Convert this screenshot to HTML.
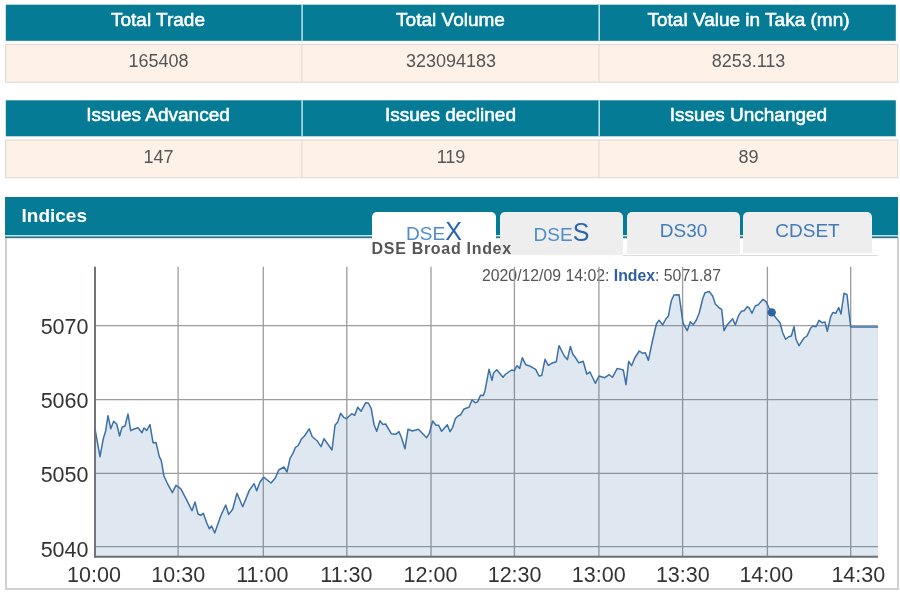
<!DOCTYPE html>
<html lang="en">
<head>
<meta charset="utf-8">
<title>DSE Market Summary</title>
<style>
html,body{margin:0;padding:0;}
body{width:900px;height:600px;position:relative;overflow:hidden;background:#fff;font-family:"Liberation Sans",Arial,sans-serif;}
.h{position:absolute;height:36px;color:#fff;font-size:19px;text-align:center;line-height:29px;-webkit-text-stroke:0.55px #fff;}
.d{position:absolute;height:37px;color:#555;font-size:18px;text-align:center;line-height:32px;border:1px solid transparent;box-sizing:content-box;}
.c1{padding-left:9px;}
.ih{position:absolute;left:5px;top:197px;width:893px;height:38px;background:#057b95;}
.hl{position:absolute;left:0;top:0;}
.ih span{position:absolute;left:16.5px;top:7px;color:#fff;font-weight:bold;font-size:19px;line-height:24px;}
.panel{position:absolute;left:5px;top:238px;width:894px;height:352px;border:2px solid #d0d0d0;border-top:none;box-sizing:border-box;}
.tab{position:absolute;top:212px;border-radius:5px 5px 0 0;background:#eee;text-align:center;color:#3f7bbd;font-size:19px;}
.tab.act{background:#fff;}
.tabline{position:absolute;left:623px;top:254.5px;width:255px;height:1px;background:#ddd;}
.tab span{position:absolute;left:0;right:0;white-space:nowrap;}
.sm{font-size:19px;color:#4f8ccb;}
.lg{font-size:25px;color:#2a66b0;}
.ttl{position:absolute;left:371.5px;top:239px;font-size:16px;font-weight:bold;color:#555;line-height:20px;letter-spacing:0.7px;white-space:nowrap;}
.chart{position:absolute;left:0;top:0;}
.ax{font-family:"Liberation Sans",Arial,sans-serif;font-size:21.5px;fill:#333;}
.tip{font-family:"Liberation Sans",Arial,sans-serif;font-size:15.8px;fill:#555;}
.tipb{font-weight:bold;fill:#2f5f9f;}
</style>
</head>
<body>
<svg class="hl" width="900" height="260" viewBox="0 0 900 260">
<rect x="5.8" y="4.7" width="890" height="36.1" fill="#057b95"/>
<line x1="302.1" y1="4.7" x2="302.1" y2="40.8" stroke="#c9eff6" stroke-width="1.4"/>
<line x1="599.2" y1="4.7" x2="599.2" y2="40.8" stroke="#c9eff6" stroke-width="1.4"/>
<rect x="5.6" y="44.5" width="892.1" height="37.7" fill="#fef1e8" stroke="#e0dad2" stroke-width="1.1"/>
<line x1="301.9" y1="44.5" x2="301.9" y2="82.2" stroke="#e0dad2" stroke-width="1.1"/>
<line x1="599.0" y1="44.5" x2="599.0" y2="82.2" stroke="#e0dad2" stroke-width="1.1"/>
<rect x="5.8" y="100.3" width="890" height="36.0" fill="#057b95"/>
<line x1="302.1" y1="100.3" x2="302.1" y2="136.3" stroke="#c9eff6" stroke-width="1.4"/>
<line x1="599.2" y1="100.3" x2="599.2" y2="136.3" stroke="#c9eff6" stroke-width="1.4"/>
<rect x="5.6" y="140.0" width="892.1" height="37.7" fill="#fef1e8" stroke="#e0dad2" stroke-width="1.1"/>
<line x1="301.9" y1="140.0" x2="301.9" y2="177.7" stroke="#e0dad2" stroke-width="1.1"/>
<line x1="599.0" y1="140.0" x2="599.0" y2="177.7" stroke="#e0dad2" stroke-width="1.1"/>
<rect x="5" y="235" width="893" height="1.4" fill="#b4e6f2"/><rect x="5" y="236.4" width="893" height="1.8" fill="#2f7585"/>
</svg>
<div class="h c1" style="left:6px;top:5px;width:286px;">Total Trade</div>
<div class="h" style="left:303px;top:5px;width:295px;">Total Volume</div>
<div class="h" style="left:601px;top:5px;width:295px;">Total Value in Taka (mn)</div>
<div class="d c1" style="left:5px;top:44px;width:287px;">165408</div>
<div class="d" style="left:302px;top:44px;width:296px;">323094183</div>
<div class="d" style="left:599px;top:44px;width:297px;">8253.113</div>

<div class="h c1" style="left:6px;top:100px;width:286px;">Issues Advanced</div>
<div class="h" style="left:303px;top:100px;width:295px;">Issues declined</div>
<div class="h" style="left:601px;top:100px;width:295px;">Issues Unchanged</div>
<div class="d c1" style="left:5px;top:140px;width:287px;">147</div>
<div class="d" style="left:302px;top:140px;width:296px;">119</div>
<div class="d" style="left:599px;top:140px;width:297px;">89</div>

<div class="ih"><span>Indices</span></div>
<div class="panel"></div>
<div class="tabline"></div>
<div class="tab act" style="left:372px;width:124px;height:44px;"><span style="top:4px;line-height:30px;"><span style="position:static" class="sm">DSE</span><span style="position:static" class="lg">X</span></span></div>
<div class="tab" style="left:500px;width:123px;height:43px;"><span style="top:5px;line-height:30px;"><span style="position:static" class="sm">DSE</span><span style="position:static" class="lg">S</span></span></div>
<div class="tab" style="left:627px;width:113px;height:41.5px;"><span style="top:8px;line-height:22px;">DS30</span></div>
<div class="tab" style="left:743px;width:129px;height:41px;"><span style="top:8px;line-height:22px;">CDSET</span></div>
<div class="ttl">DSE Broad Index</div>
<svg class="chart" width="900" height="600" viewBox="0 0 900 600">
<text x="482" y="281" class="tip">2020/12/09 14:02: <tspan class="tipb">Index</tspan>: 5071.87</text>
<line x1="178.1" y1="266.7" x2="178.1" y2="556.7" stroke="#9c9c9c" stroke-width="1.3"/>
<line x1="263.3" y1="266.7" x2="263.3" y2="556.7" stroke="#9c9c9c" stroke-width="1.3"/>
<line x1="346.8" y1="266.7" x2="346.8" y2="556.7" stroke="#9c9c9c" stroke-width="1.3"/>
<line x1="431" y1="266.7" x2="431" y2="556.7" stroke="#9c9c9c" stroke-width="1.3"/>
<line x1="514.4" y1="266.7" x2="514.4" y2="556.7" stroke="#9c9c9c" stroke-width="1.3"/>
<line x1="598.9" y1="266.7" x2="598.9" y2="556.7" stroke="#9c9c9c" stroke-width="1.3"/>
<line x1="682.6" y1="266.7" x2="682.6" y2="556.7" stroke="#9c9c9c" stroke-width="1.3"/>
<line x1="767.4" y1="266.7" x2="767.4" y2="556.7" stroke="#9c9c9c" stroke-width="1.3"/>
<line x1="850.7" y1="266.7" x2="850.7" y2="556.7" stroke="#9c9c9c" stroke-width="1.3"/>
<line x1="95" y1="325.7" x2="878" y2="325.7" stroke="#9c9c9c" stroke-width="1.3"/>
<line x1="95" y1="399.6" x2="878" y2="399.6" stroke="#9c9c9c" stroke-width="1.3"/>
<line x1="95" y1="473.3" x2="878" y2="473.3" stroke="#9c9c9c" stroke-width="1.3"/>
<line x1="95" y1="546.7" x2="878" y2="546.7" stroke="#9c9c9c" stroke-width="1.3"/>
<path d="M95.1,429.3 L100,456.7 L103.3,438.7 L105.7,430.7 L108,415.7 L110.7,428.7 L113.7,421.3 L116.7,424 L119.6,436 L122,427.3 L125,426 L128,414 L130.7,430.7 L134,429 L138,427.7 L142,432.7 L144,428 L146.7,430.4 L150,424.7 L153,442.7 L156,442.4 L159.3,456.7 L161.3,460.7 L164,476.3 L168,484.7 L172.4,492.7 L176,485.3 L180.7,488.7 L186,498.7 L192,510.7 L195,502 L198,514 L200.7,515.3 L203.3,513.3 L206.7,522.7 L209.3,528.7 L211.6,526 L214.7,533 L220.7,516 L225.7,505 L228.7,514.4 L232.7,509.3 L237,493.3 L242.7,506.7 L249.3,490.4 L254,483.6 L256.7,490.7 L260,482 L263.6,477.2 L271,483 L275.3,478 L278.7,470 L284,467 L287,472 L290,458.3 L292.8,453.6 L295.5,447.3 L298.2,445.5 L301.2,439.3 L304.5,436 L309.2,428.8 L312.3,436.7 L317,440.7 L321,446.7 L324,438.7 L332,450 L335,425.3 L337.7,422 L340.6,413.3 L343.7,417.3 L346.3,418.7 L351.7,413.7 L354.7,415.3 L357.7,407.3 L361,411.3 L365.7,402.7 L368.3,403 L371.2,408.4 L374,424.5 L376.7,431.3 L380,420.7 L382.7,424.4 L385.6,424 L391.3,433.7 L395.7,434.3 L399,431.6 L401.6,438 L405,448.7 L408,429.3 L412.3,431 L418.4,429.3 L426.7,437.7 L429.3,433.3 L432.7,421 L436,425.3 L438.7,425.3 L441.6,431.3 L447.3,424.7 L450,431.6 L452.7,427.3 L455.3,418.7 L458,416 L460.7,414.7 L463.7,409.3 L466.7,408 L469,407.3 L472,400 L475.5,402.8 L477.7,401.6 L480.5,395.3 L483.4,395.6 L485,390.7 L489,369.3 L492,380.4 L493.7,372.7 L496.7,369.7 L503,377.3 L505.7,374 L511.7,370 L514.3,370.7 L517,365.7 L519.7,368.4 L522.3,357.7 L525.7,364.7 L529,365.7 L535.7,369.3 L539,376 L541.7,375.6 L545,359.3 L548.3,365.3 L551.7,363.3 L556.3,361.7 L559,345.7 L564.3,356 L567.4,359.6 L570.4,346.4 L572.7,354 L575.7,358 L578.8,362.8 L583.2,361.3 L586.7,374 L590,372 L595.3,383.3 L599,376 L604.7,377.7 L609.3,374.7 L612.4,377.3 L617.3,368.4 L623.3,370 L626,384.7 L628.7,361.3 L631.6,365.7 L634.7,358 L639.3,351 L642.7,353.3 L645.3,352.7 L648.4,360.4 L652.3,341.5 L656.4,324 L659,320.2 L662.7,324.9 L665.8,319 L668.5,315.7 L671.3,300.7 L674,295 L679,294.7 L683.1,323.3 L687.2,330.7 L690.3,321.7 L693.3,324.7 L696.4,320 L699.3,312.7 L702.7,298.7 L705,292.7 L709.3,291.6 L712.7,296 L715.3,304 L719.3,308 L721.7,309.3 L724,330.7 L727.3,324.7 L732.7,318.7 L735.3,325 L738.7,315.3 L741.3,311.3 L744,310.7 L747.3,306.7 L749.3,308 L752,313.3 L755.3,305.7 L758,305 L763,299.3 L766,301.6 L768.7,307.3 L771.7,312.4 L776,318 L780,322.7 L782.7,332.7 L785.6,339.3 L788.7,336.7 L791.3,336 L794,326.7 L796,339.3 L799,345.7 L804,338 L807,336 L810.7,328 L813,326 L816,326.7 L819,320.4 L822,322.7 L825,322 L827.3,331.3 L830.7,316.7 L833,312.4 L835.7,313.3 L838.7,307.6 L841,314 L844,293.3 L847,294.7 L848.7,310 L850.7,327 L878,327 L878,556.7 L95.1,556.7 Z" fill="rgba(58,110,165,0.16)" stroke="none"/>
<path d="M95.1,429.3 L100,456.7 L103.3,438.7 L105.7,430.7 L108,415.7 L110.7,428.7 L113.7,421.3 L116.7,424 L119.6,436 L122,427.3 L125,426 L128,414 L130.7,430.7 L134,429 L138,427.7 L142,432.7 L144,428 L146.7,430.4 L150,424.7 L153,442.7 L156,442.4 L159.3,456.7 L161.3,460.7 L164,476.3 L168,484.7 L172.4,492.7 L176,485.3 L180.7,488.7 L186,498.7 L192,510.7 L195,502 L198,514 L200.7,515.3 L203.3,513.3 L206.7,522.7 L209.3,528.7 L211.6,526 L214.7,533 L220.7,516 L225.7,505 L228.7,514.4 L232.7,509.3 L237,493.3 L242.7,506.7 L249.3,490.4 L254,483.6 L256.7,490.7 L260,482 L263.6,477.2 L271,483 L275.3,478 L278.7,470 L284,467 L287,472 L290,458.3 L292.8,453.6 L295.5,447.3 L298.2,445.5 L301.2,439.3 L304.5,436 L309.2,428.8 L312.3,436.7 L317,440.7 L321,446.7 L324,438.7 L332,450 L335,425.3 L337.7,422 L340.6,413.3 L343.7,417.3 L346.3,418.7 L351.7,413.7 L354.7,415.3 L357.7,407.3 L361,411.3 L365.7,402.7 L368.3,403 L371.2,408.4 L374,424.5 L376.7,431.3 L380,420.7 L382.7,424.4 L385.6,424 L391.3,433.7 L395.7,434.3 L399,431.6 L401.6,438 L405,448.7 L408,429.3 L412.3,431 L418.4,429.3 L426.7,437.7 L429.3,433.3 L432.7,421 L436,425.3 L438.7,425.3 L441.6,431.3 L447.3,424.7 L450,431.6 L452.7,427.3 L455.3,418.7 L458,416 L460.7,414.7 L463.7,409.3 L466.7,408 L469,407.3 L472,400 L475.5,402.8 L477.7,401.6 L480.5,395.3 L483.4,395.6 L485,390.7 L489,369.3 L492,380.4 L493.7,372.7 L496.7,369.7 L503,377.3 L505.7,374 L511.7,370 L514.3,370.7 L517,365.7 L519.7,368.4 L522.3,357.7 L525.7,364.7 L529,365.7 L535.7,369.3 L539,376 L541.7,375.6 L545,359.3 L548.3,365.3 L551.7,363.3 L556.3,361.7 L559,345.7 L564.3,356 L567.4,359.6 L570.4,346.4 L572.7,354 L575.7,358 L578.8,362.8 L583.2,361.3 L586.7,374 L590,372 L595.3,383.3 L599,376 L604.7,377.7 L609.3,374.7 L612.4,377.3 L617.3,368.4 L623.3,370 L626,384.7 L628.7,361.3 L631.6,365.7 L634.7,358 L639.3,351 L642.7,353.3 L645.3,352.7 L648.4,360.4 L652.3,341.5 L656.4,324 L659,320.2 L662.7,324.9 L665.8,319 L668.5,315.7 L671.3,300.7 L674,295 L679,294.7 L683.1,323.3 L687.2,330.7 L690.3,321.7 L693.3,324.7 L696.4,320 L699.3,312.7 L702.7,298.7 L705,292.7 L709.3,291.6 L712.7,296 L715.3,304 L719.3,308 L721.7,309.3 L724,330.7 L727.3,324.7 L732.7,318.7 L735.3,325 L738.7,315.3 L741.3,311.3 L744,310.7 L747.3,306.7 L749.3,308 L752,313.3 L755.3,305.7 L758,305 L763,299.3 L766,301.6 L768.7,307.3 L771.7,312.4 L776,318 L780,322.7 L782.7,332.7 L785.6,339.3 L788.7,336.7 L791.3,336 L794,326.7 L796,339.3 L799,345.7 L804,338 L807,336 L810.7,328 L813,326 L816,326.7 L819,320.4 L822,322.7 L825,322 L827.3,331.3 L830.7,316.7 L833,312.4 L835.7,313.3 L838.7,307.6 L841,314 L844,293.3 L847,294.7 L848.7,310 L850.7,327 L878,327" fill="none" stroke="#3d70a7" stroke-width="1.5" stroke-linejoin="round"/>
<line x1="95" y1="266.7" x2="95" y2="557.5" stroke="#6a6e77" stroke-width="1.9"/>
<line x1="94.2" y1="556.7" x2="878" y2="556.7" stroke="#6a6e77" stroke-width="1.9"/>
<circle cx="771.7" cy="312.4" r="4.2" fill="#2c64a0"/>
<text x="88.5" y="334.3" text-anchor="end" class="ax">5070</text>
<text x="88.5" y="408.2" text-anchor="end" class="ax">5060</text>
<text x="88.5" y="481.9" text-anchor="end" class="ax">5050</text>
<text x="88.5" y="557.3" text-anchor="end" class="ax">5040</text>
<text x="94" y="581.8" text-anchor="middle" class="ax">10:00</text>
<text x="178.2" y="581.8" text-anchor="middle" class="ax">10:30</text>
<text x="262.3" y="581.8" text-anchor="middle" class="ax">11:00</text>
<text x="346.4" y="581.8" text-anchor="middle" class="ax">11:30</text>
<text x="430.5" y="581.8" text-anchor="middle" class="ax">12:00</text>
<text x="514.6" y="581.8" text-anchor="middle" class="ax">12:30</text>
<text x="598.7" y="581.8" text-anchor="middle" class="ax">13:00</text>
<text x="682.8" y="581.8" text-anchor="middle" class="ax">13:30</text>
<text x="766.3" y="581.8" text-anchor="middle" class="ax">14:00</text>
<text x="858.3" y="581.8" text-anchor="middle" class="ax">14:30</text>
</svg>
</body>
</html>
